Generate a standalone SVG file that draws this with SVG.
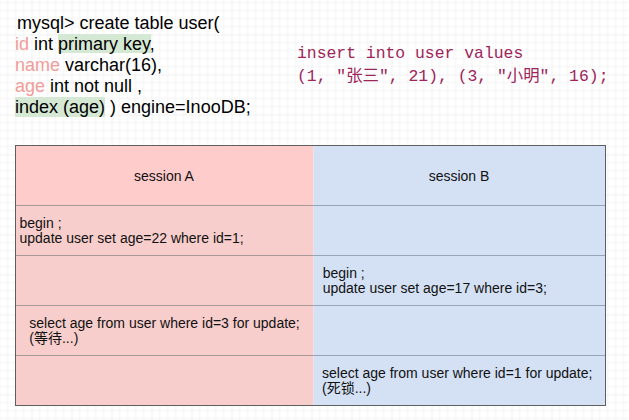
<svg xmlns="http://www.w3.org/2000/svg" width="629" height="420" viewBox="0 0 629 420">
<defs>
<pattern id="grid" patternUnits="userSpaceOnUse" x="31.5" y="34.5" width="40" height="40">
<path d="M8 0V40M16 0V40M24 0V40M32 0V40M0 8H40M0 16H40M0 24H40M0 32H40" stroke="#f3f3f3" stroke-width="1" fill="none"/>
<path d="M0 0V40M0 0H40" stroke="#e3e3e3" stroke-width="1" fill="none"/>
</pattern>
</defs>
<style>
.code{font-family:"Liberation Sans",Arial,sans-serif;font-size:18px;fill:#000}
.kw{fill:#F19C99}
.mono{font-family:"Liberation Mono","Noto Sans CJK SC",monospace;font-size:16.4px;fill:#9E2459}
.hl{fill:#D5E8D4}
.cell{font-family:"Liberation Sans","Noto Sans CJK SC",Arial,sans-serif;font-size:14px;fill:#111}
.ca{fill:#F8CECC}
.cb{fill:#D4E1F5}
.div{stroke:#A89999;stroke-width:1}
.divb{stroke:#98A3B3;stroke-width:1}
</style>
<rect width="629" height="420" fill="#fff"/>
<rect width="629" height="420" fill="url(#grid)"/>

<g id="create-table">
<rect class="hl" x="58" y="34" width="93" height="19"/>
<rect class="hl" x="15" y="97" width="90" height="20"/>
<text class="code" x="17" y="28.5">mysql&gt; create table user(</text>
<text class="code" x="15" y="49.7"><tspan class="kw">id</tspan> int primary key,</text>
<text class="code" x="15" y="70.9"><tspan class="kw">name</tspan> varchar(16),</text>
<text class="code" x="15" y="92.1"><tspan class="kw">age</tspan> int not null ,</text>
<text class="code" x="15" y="113.3">index (age) ) engine=InooDB;</text>
</g>

<g id="insert">
<text class="mono" x="297" y="57.5">insert into user values</text>
<text class="mono" x="297" y="80.5">(1, "张三", 21), (3, "小明", 16);</text>
</g>

<g id="table">
<rect x="15" y="145" width="298.5" height="60" fill="#FFCCCC"/>
<rect class="ca" x="15" y="205" width="298.5" height="200"/>
<rect class="cb" x="313.5" y="145" width="292" height="260"/>
<g id="row-lines">
<line class="div" x1="15" y1="205.5" x2="313.5" y2="205.5"/>
<line class="div" x1="15" y1="255.5" x2="313.5" y2="255.5"/>
<line class="div" x1="15" y1="305.5" x2="313.5" y2="305.5"/>
<line class="div" x1="15" y1="355.5" x2="313.5" y2="355.5"/>
<line class="divb" x1="313.5" y1="205.5" x2="605.5" y2="205.5"/>
<line class="divb" x1="313.5" y1="255.5" x2="605.5" y2="255.5"/>
<line class="divb" x1="313.5" y1="305.5" x2="605.5" y2="305.5"/>
<line class="divb" x1="313.5" y1="355.5" x2="605.5" y2="355.5"/>
</g>
<rect x="15.5" y="145.5" width="590" height="260" fill="none" stroke="#5f5f5f" stroke-width="1"/>
</g>

<g id="header-a"><text class="cell" x="164" y="181" text-anchor="middle">session A</text></g>
<g id="header-b"><text class="cell" x="459" y="181" text-anchor="middle">session B</text></g>

<g id="a-step1">
<text class="cell" x="19.5" y="228">begin ;</text>
<text class="cell" x="19.5" y="243">update user set age=22 where id=1;</text>
</g>
<g id="b-step2">
<text class="cell" x="322.7" y="278">begin ;</text>
<text class="cell" x="322.7" y="293">update user set age=17 where id=3;</text>
</g>
<g id="a-step3">
<text class="cell" x="29.3" y="328">select age from user where id=3 for update;</text>
<text class="cell" x="29.3" y="343">(等待...)</text>
</g>
<g id="b-step4">
<text class="cell" x="322" y="378">select age from user where id=1 for update;</text>
<text class="cell" x="322" y="393">(死锁...)</text>
</g>
</svg>
